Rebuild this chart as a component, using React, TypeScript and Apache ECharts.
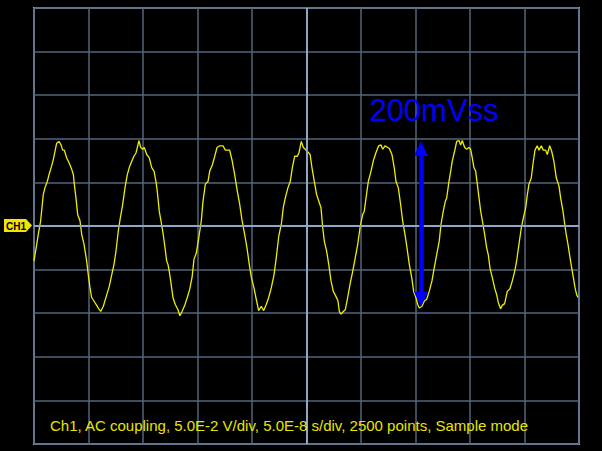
import React, { useEffect, useRef } from "react";
import * as echarts from "echarts";

// Time in ns (5.0E-8 s/div, 10 div), voltage in mV (5.0E-2 V/div, 10 div)
const timeNs = [
  0, 2.5, 3.9, 6.1, 8.5, 10.1, 12.2, 13.8, 16.2, 17.7, 19.3, 20.8, 22.9, 24.8, 26.3, 27.8, 30.0, 32.4, 34.6, 36.1,
  37.0, 38.5, 40.1, 42.2, 43.8, 45.9, 48.3, 49.8, 51.4, 52.9, 55.0, 57.5, 59.9, 61.2, 63.6, 66.7, 69.1, 71.3, 73.4, 75.2,
  77.3, 78.9, 81.4, 83.5, 85.6, 87.4, 89.6, 91.7, 93.6, 94.8, 96.3, 97.9, 99.7, 101.2, 103.4, 105.8, 108.0, 110.1, 111.9, 113.1,
  114.9, 116.5, 118.6, 120.2, 121.7, 122.9, 124.1, 125.4, 127.5, 129.6, 132.1, 133.9, 135.8, 138.3, 140.6, 142.8, 145.0, 146.8, 148.9, 151.1,
  153.5, 155.0, 157.2, 159.6, 161.2, 163.6, 165.8, 167.9, 170.4, 173.4, 175.5, 179.5, 181.6, 184.1, 186.5, 188.7, 190.8, 193.3, 195.4, 197.5,
  199.4, 201.8, 203.9, 206.1, 208.5, 210.7, 213.1, 215.3, 217.7, 220.2, 222.3, 224.5, 226.9, 228.7, 230.5, 233.0, 235.1, 237.0, 239.2, 241.6,
  243.1, 245.2, 247.1, 248.9, 253.3, 255.0, 257.2, 259.3, 261.7, 263.3, 264.9, 266.3, 268.5, 270.4, 272.5, 274.6, 277.1, 278.9, 280.1, 281.6,
  283.8, 285.6, 287.8, 289.9, 292.4, 294.8, 297.0, 299.1, 301.5, 303.0, 304.6, 306.7, 309.2, 311.6, 313.7, 316.2, 318.3, 319.9, 322.0, 324.5,
  326.0, 328.4, 330.5, 332.1, 334.2, 336.0, 338.2, 340.4, 342.2, 344.3, 346.5, 348.3, 350.4, 352.0, 353.5, 356.0, 358.1, 360.3, 362.6, 365.1,
  367.2, 369.4, 371.8, 373.4, 375.5, 377.3, 378.6, 380.7, 382.3, 383.7, 385.9, 387.8, 389.9, 391.4, 392.9, 395.1, 396.9, 399.0, 400.6, 402.1,
  403.6, 405.2, 406.7, 408.3, 409.8, 411.9, 413.5, 415.3, 416.8, 418.3, 420.4, 422.6, 424.5, 426.0, 428.1, 429.6, 431.8, 434.2, 436.7, 438.8,
  441.0, 442.8, 444.9, 447.1, 448.9, 451.1, 452.6, 454.1, 456.2, 458.1, 459.6, 461.7, 463.3, 465.4, 467.2, 469.4, 470.9, 473.1, 474.9, 477.0,
  479.2, 481.6, 483.2, 485.3, 486.9, 488.3, 489.9, 491.7, 493.3, 494.8, 496.4, 497.9, 499.1,
];
const voltageMv = [
  -40, -21, -10, 6, 36, 44, 51, 59, 69, 76, 86, 95, 97, 93, 87, 87, 78, 72, 65, 59,
  48, 32, 13, 6, -10, -21, -40, -56, -71, -82, -86, -91, -96, -98, -92, -79, -69, -56, -44, -29,
  -6, 7, 25, 44, 59, 67, 74, 80, 84, 90, 98, 90, 88, 90, 82, 78, 67, 63, 51, 40,
  17, 6, -10, -25, -40, -44, -52, -63, -82, -90, -96, -103, -98, -91, -82, -73, -59, -38, -31, -14,
  6, 28, 48, 51, 63, 70, 80, 90, 92, 92, 87, 87, 76, 59, 40, 25, 7, -10, -25, -44,
  -59, -71, -84, -97, -92, -97, -90, -82, -71, -56, -36, -12, 2, 21, 32, 44, 51, 67, 80, 80,
  84, 97, 90, 88, 82, 67, 51, 36, 27, 21, -2, -17, -29, -44, -63, -75, -81, -86, -98, -101,
  -98, -96, -82, -67, -52, -36, -21, -2, 13, 17, 32, 51, 63, 76, 84, 92, 93, 88, 92, 90,
  89, 82, 67, 51, 44, 28, 6, -10, -25, -44, -59, -75, -82, -90, -94, -92, -86, -84, -75, -63,
  -48, -33, -17, 2, 17, 28, 32, 51, 63, 74, 86, 97, 98, 93, 98, 90, 88, 90, 88, 78,
  67, 63, 48, 32, 17, 2, -10, -25, -33, -48, -59, -71, -79, -88, -95, -91, -89, -75, -72, -63,
  -52, -40, -21, -2, 9, 21, 36, 48, 55, 74, 87, 92, 87, 92, 87, 87, 82, 92, 86, 74,
  55, 46, 32, 17, 2, -10, -21, -36, -48, -59, -71, -79, -82,
];

// Peak-to-peak marker (ns, mV): arrow head centres
const markerTime = 355;
const markerLow = -84;
const markerHigh = 89;

const infoText = "Ch1, AC coupling, 5.0E-2 V/div, 5.0E-8 s/div, 2500 points, Sample mode";
const vppText = "200mVss";

export default function App() {
  const ref = useRef<HTMLDivElement>(null);
  useEffect(() => {
    if (!ref.current) return;
    const chart = echarts.init(ref.current, null, { renderer: "svg" });
    const data = timeNs.map((t, i) => [t, voltageMv[i]]);
    const gridCol = "#53657c";
    const brightCol = "#8ea7c7";
    chart.setOption({
      animation: false,
      backgroundColor: "#000000",
      grid: {
        left: 34,
        top: 8,
        width: 545,
        height: 436,
        show: true,
        borderColor: brightCol,
        borderWidth: 2,
        backgroundColor: "#000000",
      },
      xAxis: {
        type: "value",
        min: 0,
        max: 500,
        interval: 50,
        axisLine: { show: false },
        axisTick: { show: false },
        axisLabel: { show: false },
        splitLine: { show: true, lineStyle: { color: gridCol, width: 1.5 } },
      },
      yAxis: {
        type: "value",
        min: -250,
        max: 250,
        interval: 50,
        axisLine: { show: false },
        axisTick: { show: false },
        axisLabel: { show: false },
        splitLine: { show: true, lineStyle: { color: gridCol, width: 1.5 } },
      },
      series: [
        {
          type: "line",
          data,
          showSymbol: false,
          symbol: "none",
          lineStyle: { color: "#eeee00", width: 1.3 },
          markLine: {
            silent: true,
            symbol: "none",
            label: { show: false },
            lineStyle: { color: brightCol, width: 2, type: "solid" },
            data: [{ xAxis: 250 }, { yAxis: 0 }],
          },
          z: 3,
        },
        {
          type: "line",
          data: [],
          markLine: {
            silent: true,
            symbol: ["triangle", "triangle"],
            symbolSize: [14, 15],
            label: { show: false },
            lineStyle: { color: "#0000ff", width: 4.5, type: "solid" },
            data: [
              [
                { coord: [markerTime, markerLow] },
                { coord: [markerTime, markerHigh] },
              ],
            ],
          },
          z: 4,
        },
      ],
      graphic: [
        {
          type: "polygon",
          shape: { points: [[4, 219], [26, 219], [32, 225.5], [26, 232], [4, 232]] },
          style: { fill: "#f3e500" },
          z: 10,
        },
        {
          type: "text",
          x: 16,
          y: 226,
          style: {
            text: "CH1",
            fill: "#000000",
            font: "bold 10px 'Liberation Sans', Arial, sans-serif",
            textAlign: "center",
            textVerticalAlign: "middle",
          },
          z: 11,
        },
        {
          type: "text",
          x: 434,
          y: 110,
          style: {
            text: vppText,
            fill: "#0000ff",
            font: "31px 'Liberation Sans', Arial, sans-serif",
            textAlign: "center",
            textVerticalAlign: "middle",
          },
          z: 11,
        },
        {
          type: "text",
          x: 289,
          y: 425,
          style: {
            text: infoText,
            fill: "#e6e600",
            font: "15px 'Liberation Sans', Arial, sans-serif",
            textAlign: "center",
            textVerticalAlign: "middle",
          },
          z: 11,
        },
      ],
    });
    return () => chart.dispose();
  }, []);
  return (
    <div
      ref={ref}
      style={{ position: "fixed", left: 0, top: 0, width: 602, height: 451, background: "#000" }}
    />
  );
}
